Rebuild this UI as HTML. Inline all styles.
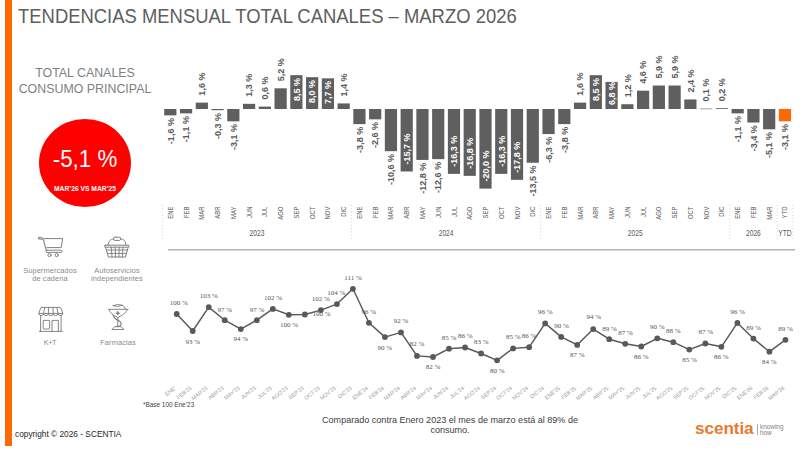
<!DOCTYPE html>
<html><head><meta charset="utf-8">
<style>
html,body{margin:0;padding:0;background:#fff;}
body{width:807px;height:454px;position:relative;overflow:hidden;font-family:"Liberation Sans",sans-serif;}
.a{position:absolute;white-space:nowrap;}
#bar{left:5px;top:0;width:7px;height:446px;background:#FF6A00;}
#title{left:18px;top:4px;font-size:21px;color:#5e5e5e;transform:scaleX(0.878);transform-origin:0 0;}
#tc{left:0;width:170px;top:65px;text-align:center;font-size:12.4px;line-height:16.4px;color:#7F7F7F;}
#circle{left:39px;top:119px;width:92px;height:88px;border-radius:50%;background:#FF0000;}
#pct{left:39px;width:92px;top:146px;text-align:center;font-size:23.6px;color:#fff;transform:scaleX(0.945);transform-origin:46px 0;}
#vs{left:39px;width:92px;top:184px;text-align:center;font-size:7.6px;color:#fff;font-weight:bold;transform:scaleX(0.885);transform-origin:46px 0;}
svg text{font-family:"Liberation Sans",sans-serif;}
.bl{font-size:9.3px;font-weight:bold;}
.ml{font-size:7.2px;fill:#595959;}
.yl{font-size:8.3px;fill:#595959;}
.sep{stroke:#C8C8C8;stroke-width:0.9;stroke-dasharray:0.9 2.4;}
.ll{font-family:"Liberation Serif",serif !important;font-size:7px;fill:#555555;}
.lm{font-size:5.4px;fill:#999999;}
#copy{left:15px;top:428px;font-size:9.5px;color:#262626;transform:scaleX(0.875);transform-origin:0 0;}
#base{left:143px;top:399.7px;font-size:7.4px;color:#404040;transform:scaleX(0.865);transform-origin:0 0;}
#cmt{left:300px;width:300px;top:414.7px;transform:scaleX(0.952);transform-origin:150px 0;text-align:center;font-size:9.5px;line-height:10.5px;color:#404040;white-space:normal;}
#logo{left:695px;top:418px;font-size:17.2px;font-weight:bold;color:#EA7A2C;letter-spacing:-0.1px;}
#div{left:757px;top:424px;width:0.8px;height:10.5px;background:#aaaaaa;}
#kn{left:760px;top:424px;font-size:6.4px;line-height:6.2px;color:#7f7f7f;}
.icon{position:absolute;}
.il{position:absolute;text-align:center;font-size:7.4px;line-height:8px;color:#8a8a8a;white-space:nowrap;letter-spacing:0.12px;}
</style></head><body>
<div id="bar" class="a"></div>
<div id="title" class="a">TENDENCIAS MENSUAL TOTAL CANALES – MARZO 2026</div>
<div id="tc" class="a">TOTAL CANALES<br>CONSUMO PRINCIPAL</div>
<div id="circle" class="a"></div>
<div id="pct" class="a">-5,1 %</div>
<div id="vs" class="a">MAR’26 VS MAR’25</div>
<svg class="a" style="left:0;top:0" width="807" height="454" viewBox="0 0 807 454">
<rect x="164.20" y="109.00" width="12.2" height="6.37" fill="#5F5F5F"/>
<text transform="translate(173.55,118.07) rotate(-90) scale(0.97,1)" text-anchor="end" class="bl" fill="#595959">-1,6 %</text>
<rect x="179.96" y="109.00" width="12.2" height="4.38" fill="#5F5F5F"/>
<text transform="translate(189.31,116.08) rotate(-90) scale(0.97,1)" text-anchor="end" class="bl" fill="#595959">-1,1 %</text>
<rect x="195.72" y="102.63" width="12.2" height="6.37" fill="#5F5F5F"/>
<text transform="translate(205.07,95.63) rotate(-90) scale(0.97,1)" text-anchor="start" class="bl" fill="#595959">1,6 %</text>
<rect x="211.48" y="109.00" width="12.2" height="1.19" fill="#5F5F5F"/>
<text transform="translate(220.83,112.89) rotate(-90) scale(0.97,1)" text-anchor="end" class="bl" fill="#595959">-0,3 %</text>
<rect x="227.24" y="109.00" width="12.2" height="12.34" fill="#5F5F5F"/>
<text transform="translate(236.59,124.04) rotate(-90) scale(0.97,1)" text-anchor="end" class="bl" fill="#595959">-3,1 %</text>
<rect x="243.00" y="103.83" width="12.2" height="5.17" fill="#5F5F5F"/>
<text transform="translate(252.35,96.83) rotate(-90) scale(0.97,1)" text-anchor="start" class="bl" fill="#595959">1,3 %</text>
<rect x="258.76" y="106.61" width="12.2" height="2.39" fill="#5F5F5F"/>
<text transform="translate(268.12,99.61) rotate(-90) scale(0.97,1)" text-anchor="start" class="bl" fill="#595959">0,6 %</text>
<rect x="274.52" y="88.30" width="12.2" height="20.70" fill="#5F5F5F"/>
<text transform="translate(283.88,81.30) rotate(-90) scale(0.97,1)" text-anchor="start" class="bl" fill="#595959">5,2 %</text>
<rect x="290.28" y="75.17" width="12.2" height="33.83" fill="#5F5F5F"/>
<text transform="translate(299.63,77.87) rotate(-90) scale(0.97,1)" text-anchor="end" class="bl" fill="#FFFFFF">8,5 %</text>
<rect x="306.04" y="77.16" width="12.2" height="31.84" fill="#5F5F5F"/>
<text transform="translate(315.39,79.86) rotate(-90) scale(0.97,1)" text-anchor="end" class="bl" fill="#FFFFFF">8,0 %</text>
<rect x="321.80" y="78.35" width="12.2" height="30.65" fill="#5F5F5F"/>
<text transform="translate(331.15,81.05) rotate(-90) scale(0.97,1)" text-anchor="end" class="bl" fill="#FFFFFF">7,7 %</text>
<rect x="337.56" y="103.43" width="12.2" height="5.57" fill="#5F5F5F"/>
<text transform="translate(346.91,96.43) rotate(-90) scale(0.97,1)" text-anchor="start" class="bl" fill="#595959">1,4 %</text>
<rect x="353.32" y="109.00" width="12.2" height="15.12" fill="#5F5F5F"/>
<text transform="translate(362.68,126.82) rotate(-90) scale(0.97,1)" text-anchor="end" class="bl" fill="#595959">-3,8 %</text>
<rect x="369.08" y="109.00" width="12.2" height="10.35" fill="#5F5F5F"/>
<text transform="translate(378.44,122.05) rotate(-90) scale(0.97,1)" text-anchor="end" class="bl" fill="#595959">-2,6 %</text>
<rect x="384.84" y="109.00" width="12.2" height="42.19" fill="#5F5F5F"/>
<text transform="translate(394.19,153.89) rotate(-90) scale(0.97,1)" text-anchor="end" class="bl" fill="#595959">-10,6 %</text>
<rect x="400.60" y="109.00" width="12.2" height="62.49" fill="#5F5F5F"/>
<text transform="translate(409.96,164.49) rotate(-90) scale(0.97,1)" text-anchor="start" class="bl" fill="#FFFFFF">-15,7 %</text>
<rect x="416.36" y="109.00" width="12.2" height="50.94" fill="#5F5F5F"/>
<text transform="translate(425.72,162.64) rotate(-90) scale(0.97,1)" text-anchor="end" class="bl" fill="#595959">-12,8 %</text>
<rect x="432.12" y="109.00" width="12.2" height="50.15" fill="#5F5F5F"/>
<text transform="translate(441.48,161.85) rotate(-90) scale(0.97,1)" text-anchor="end" class="bl" fill="#595959">-12,6 %</text>
<rect x="447.88" y="109.00" width="12.2" height="64.87" fill="#5F5F5F"/>
<text transform="translate(457.24,166.87) rotate(-90) scale(0.97,1)" text-anchor="start" class="bl" fill="#FFFFFF">-16,3 %</text>
<rect x="463.64" y="109.00" width="12.2" height="66.86" fill="#5F5F5F"/>
<text transform="translate(473.00,168.86) rotate(-90) scale(0.97,1)" text-anchor="start" class="bl" fill="#FFFFFF">-16,8 %</text>
<rect x="479.40" y="109.00" width="12.2" height="79.60" fill="#5F5F5F"/>
<text transform="translate(488.75,181.60) rotate(-90) scale(0.97,1)" text-anchor="start" class="bl" fill="#FFFFFF">-20,0 %</text>
<rect x="495.16" y="109.00" width="12.2" height="64.87" fill="#5F5F5F"/>
<text transform="translate(504.51,166.87) rotate(-90) scale(0.97,1)" text-anchor="start" class="bl" fill="#FFFFFF">-16,3 %</text>
<rect x="510.92" y="109.00" width="12.2" height="70.84" fill="#5F5F5F"/>
<text transform="translate(520.27,172.84) rotate(-90) scale(0.97,1)" text-anchor="start" class="bl" fill="#FFFFFF">-17,8 %</text>
<rect x="526.68" y="109.00" width="12.2" height="53.73" fill="#5F5F5F"/>
<text transform="translate(536.04,165.43) rotate(-90) scale(0.97,1)" text-anchor="end" class="bl" fill="#595959">-13,5 %</text>
<rect x="542.44" y="109.00" width="12.2" height="25.07" fill="#5F5F5F"/>
<text transform="translate(551.80,136.77) rotate(-90) scale(0.97,1)" text-anchor="end" class="bl" fill="#595959">-6,3 %</text>
<rect x="558.20" y="109.00" width="12.2" height="15.12" fill="#5F5F5F"/>
<text transform="translate(567.56,126.82) rotate(-90) scale(0.97,1)" text-anchor="end" class="bl" fill="#595959">-3,8 %</text>
<rect x="573.96" y="102.63" width="12.2" height="6.37" fill="#5F5F5F"/>
<text transform="translate(583.32,95.63) rotate(-90) scale(0.97,1)" text-anchor="start" class="bl" fill="#595959">1,6 %</text>
<rect x="589.72" y="75.17" width="12.2" height="33.83" fill="#5F5F5F"/>
<text transform="translate(599.08,77.87) rotate(-90) scale(0.97,1)" text-anchor="end" class="bl" fill="#FFFFFF">8,5 %</text>
<rect x="605.48" y="81.94" width="12.2" height="27.06" fill="#5F5F5F"/>
<text transform="translate(614.84,105.00) rotate(-90) scale(0.97,1)" text-anchor="start" class="bl" fill="#FFFFFF">6,8 %</text>
<rect x="621.24" y="104.22" width="12.2" height="4.78" fill="#5F5F5F"/>
<text transform="translate(630.60,97.22) rotate(-90) scale(0.97,1)" text-anchor="start" class="bl" fill="#595959">1,2 %</text>
<rect x="637.00" y="90.69" width="12.2" height="18.31" fill="#5F5F5F"/>
<text transform="translate(646.36,83.69) rotate(-90) scale(0.97,1)" text-anchor="start" class="bl" fill="#595959">4,6 %</text>
<rect x="652.76" y="85.52" width="12.2" height="23.48" fill="#5F5F5F"/>
<text transform="translate(662.12,78.52) rotate(-90) scale(0.97,1)" text-anchor="start" class="bl" fill="#595959">5,9 %</text>
<rect x="668.52" y="85.52" width="12.2" height="23.48" fill="#5F5F5F"/>
<text transform="translate(677.88,78.52) rotate(-90) scale(0.97,1)" text-anchor="start" class="bl" fill="#595959">5,9 %</text>
<rect x="684.28" y="99.45" width="12.2" height="9.55" fill="#5F5F5F"/>
<text transform="translate(693.63,92.45) rotate(-90) scale(0.97,1)" text-anchor="start" class="bl" fill="#595959">2,4 %</text>
<rect x="700.04" y="108.60" width="12.2" height="0.60" fill="#5F5F5F"/>
<text transform="translate(709.39,101.60) rotate(-90) scale(0.97,1)" text-anchor="start" class="bl" fill="#595959">0,1 %</text>
<rect x="715.80" y="108.20" width="12.2" height="0.80" fill="#5F5F5F"/>
<text transform="translate(725.15,101.20) rotate(-90) scale(0.97,1)" text-anchor="start" class="bl" fill="#595959">0,2 %</text>
<rect x="731.56" y="109.00" width="12.2" height="4.38" fill="#5F5F5F"/>
<text transform="translate(740.91,116.08) rotate(-90) scale(0.97,1)" text-anchor="end" class="bl" fill="#595959">-1,1 %</text>
<rect x="747.32" y="109.00" width="12.2" height="13.53" fill="#5F5F5F"/>
<text transform="translate(756.67,125.23) rotate(-90) scale(0.97,1)" text-anchor="end" class="bl" fill="#595959">-3,4 %</text>
<rect x="763.08" y="109.00" width="12.2" height="20.30" fill="#5F5F5F"/>
<text transform="translate(772.43,132.00) rotate(-90) scale(0.97,1)" text-anchor="end" class="bl" fill="#595959">-5,1 %</text>
<rect x="778.84" y="109.00" width="12.2" height="12.34" fill="#FF6A00"/>
<text transform="translate(788.19,124.04) rotate(-90) scale(0.97,1)" text-anchor="end" class="bl" fill="#595959">-3,1 %</text>
<text transform="translate(172.82,206.6) rotate(-90) scale(0.82,1)" text-anchor="end" class="ml">ENE</text>
<text transform="translate(188.58,206.6) rotate(-90) scale(0.82,1)" text-anchor="end" class="ml">FEB</text>
<text transform="translate(204.34,206.6) rotate(-90) scale(0.82,1)" text-anchor="end" class="ml">MAR</text>
<text transform="translate(220.10,206.6) rotate(-90) scale(0.82,1)" text-anchor="end" class="ml">ABR</text>
<text transform="translate(235.86,206.6) rotate(-90) scale(0.82,1)" text-anchor="end" class="ml">MAY</text>
<text transform="translate(251.62,206.6) rotate(-90) scale(0.82,1)" text-anchor="end" class="ml">JUN</text>
<text transform="translate(267.38,206.6) rotate(-90) scale(0.82,1)" text-anchor="end" class="ml">JUL</text>
<text transform="translate(283.14,206.6) rotate(-90) scale(0.82,1)" text-anchor="end" class="ml">AGO</text>
<text transform="translate(298.90,206.6) rotate(-90) scale(0.82,1)" text-anchor="end" class="ml">SEP</text>
<text transform="translate(314.66,206.6) rotate(-90) scale(0.82,1)" text-anchor="end" class="ml">OCT</text>
<text transform="translate(330.42,206.6) rotate(-90) scale(0.82,1)" text-anchor="end" class="ml">NOV</text>
<text transform="translate(346.18,206.6) rotate(-90) scale(0.82,1)" text-anchor="end" class="ml">DIC</text>
<text transform="translate(361.94,206.6) rotate(-90) scale(0.82,1)" text-anchor="end" class="ml">ENE</text>
<text transform="translate(377.70,206.6) rotate(-90) scale(0.82,1)" text-anchor="end" class="ml">FEB</text>
<text transform="translate(393.46,206.6) rotate(-90) scale(0.82,1)" text-anchor="end" class="ml">MAR</text>
<text transform="translate(409.22,206.6) rotate(-90) scale(0.82,1)" text-anchor="end" class="ml">ABR</text>
<text transform="translate(424.98,206.6) rotate(-90) scale(0.82,1)" text-anchor="end" class="ml">MAY</text>
<text transform="translate(440.74,206.6) rotate(-90) scale(0.82,1)" text-anchor="end" class="ml">JUN</text>
<text transform="translate(456.50,206.6) rotate(-90) scale(0.82,1)" text-anchor="end" class="ml">JUL</text>
<text transform="translate(472.26,206.6) rotate(-90) scale(0.82,1)" text-anchor="end" class="ml">AGO</text>
<text transform="translate(488.02,206.6) rotate(-90) scale(0.82,1)" text-anchor="end" class="ml">SEP</text>
<text transform="translate(503.78,206.6) rotate(-90) scale(0.82,1)" text-anchor="end" class="ml">OCT</text>
<text transform="translate(519.54,206.6) rotate(-90) scale(0.82,1)" text-anchor="end" class="ml">NOV</text>
<text transform="translate(535.30,206.6) rotate(-90) scale(0.82,1)" text-anchor="end" class="ml">DIC</text>
<text transform="translate(551.06,206.6) rotate(-90) scale(0.82,1)" text-anchor="end" class="ml">ENE</text>
<text transform="translate(566.82,206.6) rotate(-90) scale(0.82,1)" text-anchor="end" class="ml">FEB</text>
<text transform="translate(582.58,206.6) rotate(-90) scale(0.82,1)" text-anchor="end" class="ml">MAR</text>
<text transform="translate(598.34,206.6) rotate(-90) scale(0.82,1)" text-anchor="end" class="ml">ABR</text>
<text transform="translate(614.10,206.6) rotate(-90) scale(0.82,1)" text-anchor="end" class="ml">MAY</text>
<text transform="translate(629.86,206.6) rotate(-90) scale(0.82,1)" text-anchor="end" class="ml">JUN</text>
<text transform="translate(645.62,206.6) rotate(-90) scale(0.82,1)" text-anchor="end" class="ml">JUL</text>
<text transform="translate(661.38,206.6) rotate(-90) scale(0.82,1)" text-anchor="end" class="ml">AGO</text>
<text transform="translate(677.14,206.6) rotate(-90) scale(0.82,1)" text-anchor="end" class="ml">SEP</text>
<text transform="translate(692.90,206.6) rotate(-90) scale(0.82,1)" text-anchor="end" class="ml">OCT</text>
<text transform="translate(708.66,206.6) rotate(-90) scale(0.82,1)" text-anchor="end" class="ml">NOV</text>
<text transform="translate(724.42,206.6) rotate(-90) scale(0.82,1)" text-anchor="end" class="ml">DIC</text>
<text transform="translate(740.18,206.6) rotate(-90) scale(0.82,1)" text-anchor="end" class="ml">ENE</text>
<text transform="translate(755.94,206.6) rotate(-90) scale(0.82,1)" text-anchor="end" class="ml">FEB</text>
<text transform="translate(771.70,206.6) rotate(-90) scale(0.82,1)" text-anchor="end" class="ml">MAR</text>
<text transform="translate(787.46,206.6) rotate(-90) scale(0.82,1)" text-anchor="end" class="ml">YTD</text>
<line x1="162.42" y1="205" x2="162.42" y2="240" class="sep"/>
<line x1="351.54" y1="205" x2="351.54" y2="240" class="sep"/>
<line x1="540.66" y1="205" x2="540.66" y2="240" class="sep"/>
<line x1="729.78" y1="205" x2="729.78" y2="240" class="sep"/>
<line x1="777.06" y1="205" x2="777.06" y2="240" class="sep"/>
<line x1="792.82" y1="205" x2="792.82" y2="240" class="sep"/>
<text transform="translate(256.98,235.9) scale(0.8,1)" text-anchor="middle" class="yl">2023</text>
<text transform="translate(446.10,235.9) scale(0.8,1)" text-anchor="middle" class="yl">2024</text>
<text transform="translate(635.22,235.9) scale(0.8,1)" text-anchor="middle" class="yl">2025</text>
<text transform="translate(753.42,235.9) scale(0.8,1)" text-anchor="middle" class="yl">2026</text>
<text transform="translate(784.94,235.9) scale(0.8,1)" text-anchor="middle" class="yl">YTD</text>
<line x1="168" y1="249.7" x2="795" y2="249.7" stroke="#B4B4B4" stroke-width="1.6"/>
<polyline points="176.70,314.00 192.72,331.00 208.74,307.10 224.76,320.20 240.78,329.10 256.80,320.20 272.82,308.90 288.84,314.80 304.86,314.50 320.88,310.10 336.90,304.10 352.92,288.80 368.94,322.80 384.96,337.10 400.98,332.40 417.00,355.90 433.02,357.00 449.04,348.70 465.06,347.50 481.08,353.50 497.10,360.30 513.12,348.40 529.14,347.20 545.16,323.40 561.18,336.90 577.20,344.90 593.22,329.10 609.24,339.20 625.26,343.80 641.28,346.50 657.30,338.30 673.32,342.20 689.34,349.60 705.36,343.50 721.38,346.80 737.40,322.90 753.42,338.60 769.44,351.70 785.46,339.80" fill="none" stroke="#595959" stroke-width="1.45" stroke-linejoin="round"/>
<circle cx="176.70" cy="314.00" r="2.9" fill="#595959"/>
<circle cx="192.72" cy="331.00" r="2.9" fill="#595959"/>
<circle cx="208.74" cy="307.10" r="2.9" fill="#595959"/>
<circle cx="224.76" cy="320.20" r="2.9" fill="#595959"/>
<circle cx="240.78" cy="329.10" r="2.9" fill="#595959"/>
<circle cx="256.80" cy="320.20" r="2.9" fill="#595959"/>
<circle cx="272.82" cy="308.90" r="2.9" fill="#595959"/>
<circle cx="288.84" cy="314.80" r="2.9" fill="#595959"/>
<circle cx="304.86" cy="314.50" r="2.9" fill="#595959"/>
<circle cx="320.88" cy="310.10" r="2.9" fill="#595959"/>
<circle cx="336.90" cy="304.10" r="2.9" fill="#595959"/>
<circle cx="352.92" cy="288.80" r="2.9" fill="#595959"/>
<circle cx="368.94" cy="322.80" r="2.9" fill="#595959"/>
<circle cx="384.96" cy="337.10" r="2.9" fill="#595959"/>
<circle cx="400.98" cy="332.40" r="2.9" fill="#595959"/>
<circle cx="417.00" cy="355.90" r="2.9" fill="#595959"/>
<circle cx="433.02" cy="357.00" r="2.9" fill="#595959"/>
<circle cx="449.04" cy="348.70" r="2.9" fill="#595959"/>
<circle cx="465.06" cy="347.50" r="2.9" fill="#595959"/>
<circle cx="481.08" cy="353.50" r="2.9" fill="#595959"/>
<circle cx="497.10" cy="360.30" r="2.9" fill="#595959"/>
<circle cx="513.12" cy="348.40" r="2.9" fill="#595959"/>
<circle cx="529.14" cy="347.20" r="2.9" fill="#595959"/>
<circle cx="545.16" cy="323.40" r="2.9" fill="#595959"/>
<circle cx="561.18" cy="336.90" r="2.9" fill="#595959"/>
<circle cx="577.20" cy="344.90" r="2.9" fill="#595959"/>
<circle cx="593.22" cy="329.10" r="2.9" fill="#595959"/>
<circle cx="609.24" cy="339.20" r="2.9" fill="#595959"/>
<circle cx="625.26" cy="343.80" r="2.9" fill="#595959"/>
<circle cx="641.28" cy="346.50" r="2.9" fill="#595959"/>
<circle cx="657.30" cy="338.30" r="2.9" fill="#595959"/>
<circle cx="673.32" cy="342.20" r="2.9" fill="#595959"/>
<circle cx="689.34" cy="349.60" r="2.9" fill="#595959"/>
<circle cx="705.36" cy="343.50" r="2.9" fill="#595959"/>
<circle cx="721.38" cy="346.80" r="2.9" fill="#595959"/>
<circle cx="737.40" cy="322.90" r="2.9" fill="#595959"/>
<circle cx="753.42" cy="338.60" r="2.9" fill="#595959"/>
<circle cx="769.44" cy="351.70" r="2.9" fill="#595959"/>
<circle cx="785.46" cy="339.80" r="2.9" fill="#595959"/>
<text x="178.80" y="304.90" text-anchor="middle" class="ll">100 %</text>
<text x="192.80" y="343.60" text-anchor="middle" class="ll">93 %</text>
<text x="208.80" y="297.90" text-anchor="middle" class="ll">103 %</text>
<text x="224.90" y="311.50" text-anchor="middle" class="ll">97 %</text>
<text x="240.90" y="341.20" text-anchor="middle" class="ll">94 %</text>
<text x="257.00" y="311.50" text-anchor="middle" class="ll">97 %</text>
<text x="273.00" y="299.60" text-anchor="middle" class="ll">102 %</text>
<text x="289.00" y="327.20" text-anchor="middle" class="ll">100 %</text>
<text x="321.50" y="315.90" text-anchor="middle" class="ll">100 %</text>
<text x="320.90" y="301.10" text-anchor="middle" class="ll">102 %</text>
<text x="336.30" y="295.10" text-anchor="middle" class="ll">104 %</text>
<text x="353.00" y="279.70" text-anchor="middle" class="ll">111 %</text>
<text x="368.80" y="313.50" text-anchor="middle" class="ll">96 %</text>
<text x="384.90" y="349.80" text-anchor="middle" class="ll">90 %</text>
<text x="401.00" y="323.30" text-anchor="middle" class="ll">92 %</text>
<text x="417.00" y="346.20" text-anchor="middle" class="ll">82 %</text>
<text x="433.10" y="369.10" text-anchor="middle" class="ll">82 %</text>
<text x="449.10" y="339.70" text-anchor="middle" class="ll">85 %</text>
<text x="465.20" y="337.90" text-anchor="middle" class="ll">86 %</text>
<text x="481.30" y="344.20" text-anchor="middle" class="ll">83 %</text>
<text x="497.30" y="373.00" text-anchor="middle" class="ll">80 %</text>
<text x="513.40" y="339.10" text-anchor="middle" class="ll">85 %</text>
<text x="529.10" y="337.90" text-anchor="middle" class="ll">86 %</text>
<text x="545.20" y="314.10" text-anchor="middle" class="ll">96 %</text>
<text x="561.60" y="327.80" text-anchor="middle" class="ll">90 %</text>
<text x="577.30" y="357.30" text-anchor="middle" class="ll">87 %</text>
<text x="593.70" y="319.40" text-anchor="middle" class="ll">94 %</text>
<text x="609.60" y="330.50" text-anchor="middle" class="ll">89 %</text>
<text x="625.50" y="334.80" text-anchor="middle" class="ll">87 %</text>
<text x="641.40" y="358.60" text-anchor="middle" class="ll">86 %</text>
<text x="657.30" y="329.20" text-anchor="middle" class="ll">90 %</text>
<text x="673.30" y="333.20" text-anchor="middle" class="ll">88 %</text>
<text x="689.50" y="362.00" text-anchor="middle" class="ll">85 %</text>
<text x="705.70" y="334.40" text-anchor="middle" class="ll">87 %</text>
<text x="721.30" y="359.20" text-anchor="middle" class="ll">86 %</text>
<text x="737.50" y="314.20" text-anchor="middle" class="ll">96 %</text>
<text x="753.50" y="329.50" text-anchor="middle" class="ll">89 %</text>
<text x="769.40" y="364.10" text-anchor="middle" class="ll">84 %</text>
<text x="785.60" y="330.80" text-anchor="middle" class="ll">89 %</text>
<text transform="translate(176.20,388.8) rotate(-38)" text-anchor="end" class="lm">ENE'</text>
<text transform="translate(192.22,388.8) rotate(-38)" text-anchor="end" class="lm">FEB'23</text>
<text transform="translate(208.24,388.8) rotate(-38)" text-anchor="end" class="lm">MAR'23</text>
<text transform="translate(224.26,388.8) rotate(-38)" text-anchor="end" class="lm">ABR'23</text>
<text transform="translate(240.28,388.8) rotate(-38)" text-anchor="end" class="lm">MAY'23</text>
<text transform="translate(256.30,388.8) rotate(-38)" text-anchor="end" class="lm">JUN'23</text>
<text transform="translate(272.32,388.8) rotate(-38)" text-anchor="end" class="lm">JUL'23</text>
<text transform="translate(288.34,388.8) rotate(-38)" text-anchor="end" class="lm">AGO'23</text>
<text transform="translate(304.36,388.8) rotate(-38)" text-anchor="end" class="lm">SEP'23</text>
<text transform="translate(320.38,388.8) rotate(-38)" text-anchor="end" class="lm">OCT'23</text>
<text transform="translate(336.40,388.8) rotate(-38)" text-anchor="end" class="lm">NOV'23</text>
<text transform="translate(352.42,388.8) rotate(-38)" text-anchor="end" class="lm">DIC'23</text>
<text transform="translate(368.44,388.8) rotate(-38)" text-anchor="end" class="lm">ENE'24</text>
<text transform="translate(384.46,388.8) rotate(-38)" text-anchor="end" class="lm">FEB'24</text>
<text transform="translate(400.48,388.8) rotate(-38)" text-anchor="end" class="lm">MAR'24</text>
<text transform="translate(416.50,388.8) rotate(-38)" text-anchor="end" class="lm">ABR'24</text>
<text transform="translate(432.52,388.8) rotate(-38)" text-anchor="end" class="lm">MAY'24</text>
<text transform="translate(448.54,388.8) rotate(-38)" text-anchor="end" class="lm">JUN'24</text>
<text transform="translate(464.56,388.8) rotate(-38)" text-anchor="end" class="lm">JUL'24</text>
<text transform="translate(480.58,388.8) rotate(-38)" text-anchor="end" class="lm">AGO'24</text>
<text transform="translate(496.60,388.8) rotate(-38)" text-anchor="end" class="lm">SEP'24</text>
<text transform="translate(512.62,388.8) rotate(-38)" text-anchor="end" class="lm">OCT'24</text>
<text transform="translate(528.64,388.8) rotate(-38)" text-anchor="end" class="lm">NOV'24</text>
<text transform="translate(544.66,388.8) rotate(-38)" text-anchor="end" class="lm">DIC'24</text>
<text transform="translate(560.68,388.8) rotate(-38)" text-anchor="end" class="lm">ENE'25</text>
<text transform="translate(576.70,388.8) rotate(-38)" text-anchor="end" class="lm">FEB'25</text>
<text transform="translate(592.72,388.8) rotate(-38)" text-anchor="end" class="lm">MAR'25</text>
<text transform="translate(608.74,388.8) rotate(-38)" text-anchor="end" class="lm">ABR'25</text>
<text transform="translate(624.76,388.8) rotate(-38)" text-anchor="end" class="lm">MAY'25</text>
<text transform="translate(640.78,388.8) rotate(-38)" text-anchor="end" class="lm">JUN'25</text>
<text transform="translate(656.80,388.8) rotate(-38)" text-anchor="end" class="lm">JUL'25</text>
<text transform="translate(672.82,388.8) rotate(-38)" text-anchor="end" class="lm">AGO'25</text>
<text transform="translate(688.84,388.8) rotate(-38)" text-anchor="end" class="lm">SEP'25</text>
<text transform="translate(704.86,388.8) rotate(-38)" text-anchor="end" class="lm">OCT'25</text>
<text transform="translate(720.88,388.8) rotate(-38)" text-anchor="end" class="lm">NOV'25</text>
<text transform="translate(736.90,388.8) rotate(-38)" text-anchor="end" class="lm">DIC'25</text>
<text transform="translate(752.92,388.8) rotate(-38)" text-anchor="end" class="lm">ENE'26</text>
<text transform="translate(768.94,388.8) rotate(-38)" text-anchor="end" class="lm">FEB'26</text>
<text transform="translate(784.96,388.8) rotate(-38)" text-anchor="end" class="lm">MAR'26</text>
</svg>
<div id="copy" class="a">copyright © 2026 - SCENTIA</div>
<div id="base" class="a">*Base 100 Ene’23</div>
<div id="cmt" class="a">Comparado contra Enero 2023 el mes de marzo está al 89% de consumo.</div>
<div id="logo" class="a">scentia</div>
<div id="div" class="a"></div>
<div id="kn" class="a">knowing<br>how</div>
<svg class="a" style="left:0;top:0" width="170" height="360" viewBox="0 0 170 360" fill="none" stroke="#808080" stroke-width="0.95" stroke-linecap="round" stroke-linejoin="round">
<!-- cart -->
<path d="M38.7 237.5 Q38 238.4 39.2 238.9 L42.4 239.3 Q43.3 239.5 43.6 240.4 L46.2 250.2" stroke-width="1.1"/>
<path d="M38.7 237.5 Q39.2 237 40.2 237.3 L43.4 238.4" stroke-width="1"/>
<path d="M44.4 238.6 L62.7 238.6 L61.1 247.6 L47 247.6" stroke-width="1"/>
<rect x="45.9" y="250.2" width="16.3" height="2.2" rx="1.1" stroke-width="0.95"/>
<circle cx="49.5" cy="255.1" r="1.6" stroke-width="1"/>
<circle cx="56.7" cy="255.1" r="1.6" stroke-width="1"/>
<!-- basket -->
<rect x="113.4" y="237.2" width="7.4" height="3.2" rx="1.6" stroke-width="1"/>
<path d="M113.4 238.9 C110.4 239.1 108.6 241.2 108.1 245.2 M120.8 238.9 C123.8 239.1 125.6 241.2 126.1 245.2" stroke-width="1"/>
<rect x="104.4" y="245.2" width="24.8" height="2" rx="1" stroke-width="1"/>
<path d="M105.6 247.2 L108.4 257 L125.4 257 L128.2 247.2" stroke-width="1"/>
<path d="M106.4 250 L127.4 250 M107.3 253.4 L126.5 253.4"/>
<path d="M111.2 247.2 L112 257 M115.2 247.2 L115.5 257 M119.2 247.2 L118.9 257 M123 247.2 L122.2 257"/>
<!-- store -->
<path d="M41.6 307.4 L60 307.4 Q60.6 307.5 60.9 308 L62.8 313.4 L38.8 313.4 L40.7 308 Q41 307.5 41.6 307.4 Z"/>
<path d="M38.8 313.4 A2.40 2.2 0 0 0 43.60 313.4 A2.40 2.2 0 0 0 48.40 313.4 A2.40 2.2 0 0 0 53.20 313.4 A2.40 2.2 0 0 0 58.00 313.4 A2.40 2.2 0 0 0 62.80 313.4"/>
<path d="M43.60 313.4 L44.6 307.4 M48.40 313.4 L48.6 307.4 M53.20 313.4 L52.9 307.4 M58.00 313.4 L56.9 307.4"/>
<path d="M40.6 315.6 L40.6 331.2 M61.1 315.6 L61.1 331.2 M39.2 331.4 L62.4 331.4"/>
<rect x="43.2" y="320.4" width="6.4" height="8.6" rx="0.6"/>
<path d="M52 331.2 L52 320.4 L58.4 320.4 L58.4 331.2"/>
<!-- pharmacy -->
<path d="M113.2 305.7 Q117.2 303.4 122.2 305.2 Q117.6 307.8 113.2 305.7 Z"/>
<path d="M122.2 305.2 Q125 306 125.4 308.8"/>
<path d="M108.4 309.3 L128.1 309.3"/>
<path d="M108.9 309.5 Q110.8 314.6 117.8 317.4 Q124.8 314.6 127.6 309.5"/>
<path d="M117.8 311.8 V314.6 M116.4 313.2 H119.2" stroke-width="1.4"/>
<path d="M117.8 317.4 V326"/>
<path d="M113.2 315.4 Q114.4 319 118 320.4 Q121.8 322 121 324.8 Q120 327.2 116.2 326.6" stroke-width="1.2"/>
<path d="M112 329.2 Q114 326.2 117.8 326 Q121.6 326.2 123.8 329.2 Z"/>
</svg>
<div class="il" style="left:10px;width:80px;top:266.7px">Supermercados<br>de cadena</div>
<div class="il" style="left:77px;width:80px;top:266.7px">Autoservicios<br>independientes</div>
<div class="il" style="left:10px;width:80px;top:338.6px;letter-spacing:-0.5px">K+T</div>
<div class="il" style="left:78px;width:80px;top:338.6px">Farmacias</div>

</body></html>
